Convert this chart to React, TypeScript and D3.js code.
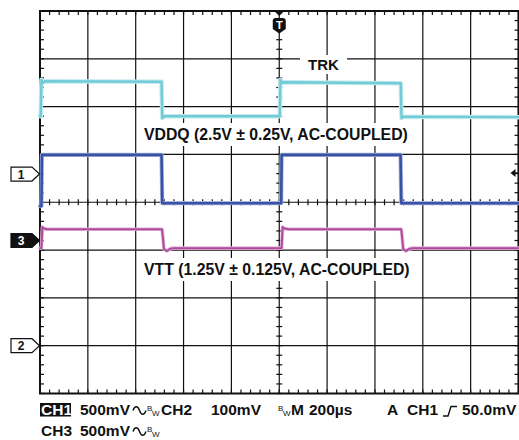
import React from "react";
import * as d3 from "d3";

// Time base: M 200µs per division, 10 divisions
const TIME_DOMAIN = [0, 2000];
// Vertical: 8 divisions, centre = 0
const DIV_DOMAIN = [-4, 4];

// Cyan trace (VDDQ / TRK) — time µs, level in divisions
const cyanTime = [0, 3, 6, 12, 20, 500, 508, 511, 520, 1000, 1002, 1005, 1012, 1020, 1505, 1508, 1511, 1520, 2000];
const cyanLevel = [1.8, 1.8, 2.56, 2.5, 2.53, 2.52, 2.52, 1.76, 1.8, 1.8, 1.8, 2.56, 2.5, 2.51, 2.49, 2.49, 1.76, 1.79, 1.78];

// Blue trace (CH1)
const blueTime = [0, 6, 8, 508, 511, 1008, 1010, 1507, 1510, 2000];
const blueLevel = [-0.08, -0.08, 0.99, 0.99, -0.02, -0.02, 0.99, 0.99, -0.02, -0.02];

// Magenta trace (VTT, CH3)
const magentaTime = [0, 6, 10, 16, 30, 510, 514, 518, 530, 545, 560, 1010, 1014, 1022, 1040, 1510, 1514, 1518, 1530, 1545, 1560, 2000];
const magentaLevel = [-0.96, -0.96, -0.52, -0.55, -0.565, -0.565, -0.75, -0.98, -1.02, -0.97, -0.96, -0.96, -0.52, -0.55, -0.565, -0.565, -0.75, -0.98, -1.02, -0.97, -0.96, -0.96];

// Channel ground markers (divisions)
const markerLabels = ["1", "3", "2"];
const markerLevels = [0.59, -0.8, -3.0];
const markerFilled = [false, true, false];

const triggerTime = 1000;
const triggerLevel = 0.61;

const labelTrk = "TRK";
const labelVddq = "VDDQ (2.5V \u00b1 0.25V, AC-COUPLED)";
const labelVtt = "VTT (1.25V \u00b1 0.125V, AC-COUPLED)";

const FONT = "'Liberation Sans', Arial, Helvetica, sans-serif";

export default function App() {
  const W = 519;
  const H = 440;
  const left = 40;
  const right = 518.5;
  const top = 11;
  const bottom = 393.5;

  const x = d3.scaleLinear().domain(TIME_DOMAIN).range([left, right]);
  const y = d3.scaleLinear().domain(DIV_DOMAIN).range([bottom, top]);

  const majorX = d3.range(0, 2001, 200);
  const majorY = d3.range(-4, 4.01, 1);
  const minorX = d3.range(0, 2001, 40);
  const minorY = d3.range(-4, 4.01, 0.2);

  const mk = (t: number[], v: number[]) =>
    d3
      .line<number>()
      .x((_, i) => x(t[i]))
      .y((d) => y(d))(v) as string;

  const cyanPath = mk(cyanTime, cyanLevel);
  const bluePath = mk(blueTime, blueLevel);
  const magentaPath = mk(magentaTime, magentaLevel);

  const tx = x(triggerTime);

  return (
    <svg
      width={W}
      height={H}
      style={{ position: "absolute", left: 0, top: 0, background: "#fff" }}
      fontFamily={FONT}
    >
      <rect x={0} y={0} width={W} height={H} fill="#fff" />
      {/* major grid */}
      <g stroke="#111" strokeWidth={1.2}>
        {majorX.map((t) => (
          <line key={"gx" + t} x1={x(t)} x2={x(t)} y1={top} y2={bottom} />
        ))}
        {majorY.map((v) => (
          <line key={"gy" + v} x1={left} x2={right} y1={y(v)} y2={y(v)} />
        ))}
      </g>
      {/* minor ticks on border and centre axes */}
      <g stroke="#111" strokeWidth={1.2}>
        {minorX.map((t) => (
          <g key={"mx" + t}>
            <line x1={x(t)} x2={x(t)} y1={top} y2={top + 4} />
            <line x1={x(t)} x2={x(t)} y1={bottom} y2={bottom - 4} />
            <line x1={x(t)} x2={x(t)} y1={y(0) - 3} y2={y(0) + 3} />
          </g>
        ))}
        {minorY.map((v) => (
          <g key={"my" + v}>
            <line x1={left} x2={left + 4} y1={y(v)} y2={y(v)} />
            <line x1={right} x2={right - 4} y1={y(v)} y2={y(v)} />
            <line x1={x(1000) - 3} x2={x(1000) + 3} y1={y(v)} y2={y(v)} />
          </g>
        ))}
      </g>
      {/* border */}
      <rect x={left} y={top} width={right - left} height={bottom - top} fill="none" stroke="#111" strokeWidth={2} />

      {/* label backgrounds */}
      <rect x={300} y={55} width={47} height={19} fill="#fff" />
      <rect x={140} y={123} width={276} height={23} fill="#fff" />
      <rect x={140} y={258} width={278} height={23} fill="#fff" />

      {/* traces */}
      <g fill="none" strokeLinejoin="round" strokeLinecap="round">
        <path d={cyanPath} stroke="#c3eaef" strokeWidth={4.5} />
        <path d={cyanPath} stroke="#72ccd7" strokeWidth={2.4} />
        <path d={bluePath} stroke="#a9b6dc" strokeWidth={4.2} />
        <path d={bluePath} stroke="#3a52a6" strokeWidth={2.6} />
        <path d={magentaPath} stroke="#e3b6d9" strokeWidth={3.6} />
        <path d={magentaPath} stroke="#b04a9c" strokeWidth={2} />
      </g>

      {/* labels */}
      <g fontWeight="bold" fill="#111">
        <text x={308} y={70} fontSize={15}>{labelTrk}</text>
        <text x={144} y={139.5} fontSize={15.8}>{labelVddq}</text>
        <text x={144} y={275} fontSize={15.8}>{labelVtt}</text>
      </g>

      {/* channel markers */}
      {markerLabels.map((lab, i) => {
        const cy = y(markerLevels[i]);
        const pts = [
          [11, cy - 7],
          [32, cy - 7],
          [39.5, cy],
          [32, cy + 7],
          [11, cy + 7],
        ]
          .map((p) => p.join(","))
          .join(" ");
        return (
          <g key={"m" + lab}>
            <polygon
              points={pts}
              fill={markerFilled[i] ? "#111" : "#fff"}
              stroke="#111"
              strokeWidth={1.2}
            />
            <text
              x={21}
              y={cy + 4.5}
              fontSize={12}
              fontWeight="bold"
              textAnchor="middle"
              fill={markerFilled[i] ? "#fff" : "#111"}
            >
              {lab}
            </text>
          </g>
        );
      })}

      {/* trigger position marker (top) */}
      <g>
        <polygon points={`${tx - 5},${top} ${tx + 5},${top} ${tx},${top + 5}`} fill="#111" />
        <path
          d={`M${tx - 6.5},${top + 10} Q${tx - 6.5},${top + 7} ${tx - 3.5},${top + 7} H${tx + 3.5} Q${tx + 6.5},${top + 7} ${tx + 6.5},${top + 10} V${top + 18} L${tx},${top + 22.5} L${tx - 6.5},${top + 18} Z`}
          fill="#111"
        />
        <text x={tx} y={top + 18} fontSize={11} fontWeight="bold" fill="#fff" textAnchor="middle">
          T
        </text>
      </g>

      {/* trigger level marker (right) */}
      <g>
        <polygon
          points={`${right - 8},${y(triggerLevel)} ${right - 3},${y(triggerLevel) - 4} ${right - 3},${y(triggerLevel) + 4}`}
          fill="#111"
        />
        <line x1={right - 4} x2={right} y1={y(triggerLevel)} y2={y(triggerLevel)} stroke="#111" strokeWidth={1.5} />
      </g>

      {/* readout */}
      <g fontWeight="bold" fill="#111" fontSize={15.5}>
        <rect x={40} y={403} width={31} height={13.5} fill="#111" />
        <text x={41} y={415} fill="#fff">CH1</text>
        <text x={80} y={415}>500mV</text>
        <path d="M133,410.5 c1.8,-5 4.7,-5 6.5,0 s4.7,5 6.5,0" fill="none" stroke="#111" strokeWidth={1.4} />
        <text x={147} y={411} fontSize={8} fontWeight="normal">B</text>
        <text x={152} y={415.5} fontSize={8} fontWeight="normal">W</text>
        <text x={161} y={415}>CH2</text>
        <text x={211} y={415}>100mV</text>
        <text x={278} y={411} fontSize={8} fontWeight="normal">B</text>
        <text x={283} y={415.5} fontSize={8} fontWeight="normal">W</text>
        <text x={291} y={415}>M</text>
        <text x={309} y={415}>200µs</text>
        <text x={387} y={415}>A</text>
        <text x={407} y={415}>CH1</text>
        <path d="M443,416 H448 L451,406.5 H457" fill="none" stroke="#111" strokeWidth={1.4} />
        <text x={462} y={415}>50.0mV</text>

        <text x={41} y={436}>CH3</text>
        <text x={80} y={436}>500mV</text>
        <path d="M133,431.5 c1.8,-5 4.7,-5 6.5,0 s4.7,5 6.5,0" fill="none" stroke="#111" strokeWidth={1.4} />
        <text x={147} y={432} fontSize={8} fontWeight="normal">B</text>
        <text x={152} y={436.5} fontSize={8} fontWeight="normal">W</text>
      </g>
    </svg>
  );
}
